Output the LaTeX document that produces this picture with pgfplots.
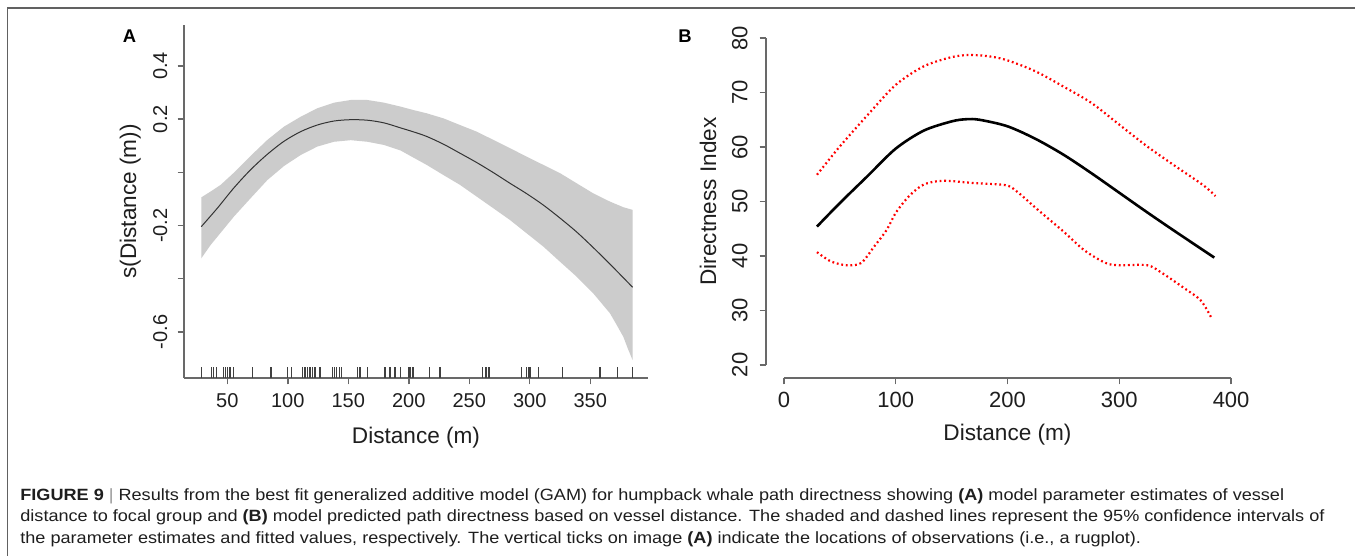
\documentclass[border=0pt]{standalone}
\usepackage{fontspec}
\setmainfont{Liberation Sans}
\usepackage{pgfplots}
\pgfplotsset{compat=1.18}
\definecolor{axgray}{RGB}{105,105,105}
\definecolor{bandgray}{RGB}{204,204,204}
\definecolor{txt}{RGB}{30,30,30}
\definecolor{capgray}{RGB}{150,150,150}

\pgfplotstableread{
x      fit
28.5  -0.204
41.7  -0.135
55.5  -0.058
69.3   0.010
83.1   0.068
96.9   0.117
110.6  0.153
124.4  0.178
138.2  0.193
152.0  0.198
165.8  0.196
179.5  0.186
193.3  0.167
204.0  0.152
214.8  0.135
228.6  0.106
242.3  0.072
256.1  0.037
269.9 -0.001
283.6 -0.041
297.4 -0.080
311.2 -0.123
325.0 -0.172
338.7 -0.224
352.5 -0.283
366.3 -0.345
377.3 -0.396
385.0 -0.432
}\tabA

% band outline: upper edge left to right, then lower edge right to left
\pgfplotstableread{
x      y
28.5  -0.094
36.2  -0.072
44.5  -0.047
55.5  -0.001
69.3   0.062
83.1   0.122
96.9   0.172
110.6  0.209
124.4  0.241
138.2  0.262
152.0  0.272
165.8  0.272
179.5  0.262
193.3  0.247
204.0  0.234
214.8  0.222
228.6  0.203
242.3  0.178
256.1  0.153
269.9  0.122
283.6  0.091
297.4  0.059
311.2  0.028
325.0 -0.003
338.7 -0.041
352.5 -0.079
366.3 -0.110
377.3 -0.131
385.0 -0.141
385.0 -0.706
381.0 -0.662
377.3 -0.618
372.0 -0.575
366.3 -0.530
352.5 -0.455
338.7 -0.392
325.0 -0.336
311.2 -0.279
297.4 -0.229
283.6 -0.179
269.9 -0.135
256.1 -0.091
242.3 -0.047
228.6 -0.010
214.8  0.028
204.0  0.055
193.3  0.082
179.5  0.103
165.8  0.115
152.0  0.121
138.2  0.115
124.4  0.097
110.6  0.065
96.9   0.024
83.1  -0.029
69.3  -0.097
55.5  -0.166
44.5  -0.227
36.2  -0.273
28.5  -0.323
}\tabBand

\pgfplotstableread{
x     fit
29.6  45.4
50    49.7
75    54.7
100   59.7
125   63.0
150   64.7
163   65.1
175   65.0
200   63.8
225   61.5
250   58.6
275   55.2
300   51.6
325   48.0
350   44.5
385   39.7
}\tabBfit

\pgfplotstableread{
x     y
29.6  54.9
50    60.1
75    65.9
100   71.4
125   74.8
150   76.5
167   76.9
185   76.6
200   75.9
225   73.9
250   71.1
275   68.1
300   64.1
325   60.1
350   56.5
375   53.0
386   51.0
}\tabBhi

\pgfplotstableread{
x     y
29.6  40.7
42    39.0
56    38.3
69    38.7
81    41.8
92    44.8
100   47.9
112   51.0
125   53.1
142   53.8
169   53.4
198   53.0
208   51.9
227   48.5
250   44.5
269   41.0
288   38.7
300   38.3
325   38.3
338   36.9
358   34.1
373   31.8
383   28.4
}\tabBlo

\pgfplotstableread{
x      y
28.3   -0.7525
37.1   -0.7525
38.4   -0.7525
40.7   -0.7525
46.7   -0.7525
48.7   -0.7525
50.3   -0.7525
52.2   -0.7525
55.0   -0.7525
71.0   -0.7525
86.1   -0.7525
99.9   -0.7525
103.2  -0.7525
112.3  -0.7525
114.2  -0.7525
116.4  -0.7525
118.3  -0.7525
120.6  -0.7525
122.5  -0.7525
126.6  -0.7525
137.1  -0.7525
138.4  -0.7525
140.4  -0.7525
142.6  -0.7525
144.5  -0.7525
157.7  -0.7525
159.7  -0.7525
166.0  -0.7525
180.3  -0.7525
184.5  -0.7525
188.6  -0.7525
193.3  -0.7525
199.6  -0.7525
201.0  -0.7525
202.9  -0.7525
203.8  -0.7525
217.0  -0.7525
225.8  -0.7525
261.1  -0.7525
263.8  -0.7525
266.3  -0.7525
293.3  -0.7525
297.4  -0.7525
298.8  -0.7525
300.2  -0.7525
307.0  -0.7525
327.2  -0.7525
358.0  -0.7525
372.3  -0.7525
385.0  -0.7525
}\tabRug

\begin{document}
\begin{tikzpicture}
\path[use as bounding box] (0,0) rectangle (677.5pt,278pt);
\fill[white] (0,0) rectangle (677.5pt,278pt);
% frame
\draw[black!62, line width=0.9pt] (3.75pt,0) -- (3.75pt,274pt) -- (677.5pt,274pt);

% ---------------- Panel A ----------------
\begin{axis}[
  at={(92pt,89pt)}, anchor=south west,
  scale only axis, width=232pt, height=176.5pt,
  xmin=14.2, xmax=397.7, ymin=-0.773, ymax=0.554,
  axis x line*=bottom, axis y line*=left,
  axis line style={axgray, line width=0.8pt},
  tick align=outside, major tick length=3.2pt,
  tick style={axgray, line width=0.7pt},
  xtick={50,100,...,350},
  ytick={-0.6,-0.4,-0.2,0,0.2,0.4},
  yticklabels={-0.6,,-0.2,,0.2,0.4},
  /pgf/number format/assume math mode=true,
  ticklabel style={font=\fontsize{10}{12}\selectfont, text=txt},
  xticklabel style={anchor=north, inner sep=0pt, yshift=-4.2pt},
  yticklabel style={xshift=-5pt, rotate=90, anchor=south, inner sep=0pt},
  xlabel={Distance (m)}, ylabel={s(Distance (m))},
  label style={font=\fontsize{11.3}{13}\selectfont, text=txt},
  xlabel style={at={(axis description cs:0.5,-0.17)}, anchor=center},
  ylabel style={at={(axis description cs:-0.116,0.5)}, anchor=center, rotate=0},
]
\addplot[fill=bandgray, draw=none] table[x=x, y=y] {\tabBand};
\addplot[black!80, line width=0.5pt, smooth] table[x=x, y=fit] {\tabA};
\addplot[only marks, mark=|, mark size=2.75pt, mark options={black!75, line width=0.55pt}] table[x=x, y=y] {\tabRug};
\end{axis}

% ---------------- Panel B ----------------
\begin{axis}[
  at={(383pt,89pt)}, anchor=south west,
  scale only axis, width=241.5pt, height=176.5pt,
  xmin=-16, xmax=416, ymin=17.6, ymax=82.4,
  clip=false,
  axis x line*=bottom, axis y line*=left,
  axis line style={draw=none},
  tick align=outside, major tick length=3.2pt,
  tick style={axgray, line width=0.7pt},
  xtick={0,100,...,400},
  ytick={20,30,...,80},
  /pgf/number format/assume math mode=true,
  ticklabel style={font=\fontsize{11}{13}\selectfont, text=txt},
  xticklabel style={anchor=north, inner sep=0pt, yshift=-3.8pt},
  yticklabel style={xshift=-5.8pt, rotate=90, anchor=south, inner sep=0pt},
  xlabel={Distance (m)}, ylabel={Directness Index},
  label style={font=\fontsize{11.3}{13}\selectfont, text=txt},
  xlabel style={at={(axis description cs:0.5,-0.16)}, anchor=center},
  ylabel style={at={(axis description cs:-0.12,0.5)}, anchor=center, rotate=0},
]
\draw[axgray, line width=0.8pt] (axis cs:0,17.6) -- (axis cs:400,17.6);
\draw[axgray, line width=0.8pt] (axis cs:-16,20) -- (axis cs:-16,80);
\addplot[red, line width=1.1pt, dash pattern=on 0.9pt off 1.4pt, smooth] table[x=x, y=y] {\tabBhi};
\addplot[red, line width=1.1pt, dash pattern=on 0.9pt off 1.4pt, smooth] table[x=x, y=y] {\tabBlo};
\addplot[black, line width=1.3pt, smooth] table[x=x, y=fit] {\tabBfit};
\end{axis}

% panel letters
\node[font=\fontsize{9.2}{11}\selectfont\bfseries, text=black] at (64.7pt,260.1pt) {A};
\node[font=\fontsize{9.2}{11}\selectfont\bfseries, text=black] at (342.5pt,260.1pt) {B};

% caption
\begin{scope}[every node/.style={anchor=base west, inner sep=0pt, font=\fontsize{8.15}{10}\selectfont, text=txt}]
\node at (10pt,27.5pt) {\scalebox{1.11}[1]{\textbf{FIGURE 9} {\color{capgray}|} Results from the best fit generalized additive model (GAM) for humpback whale path directness showing \textbf{(A)} model parameter estimates of vessel}};
\node at (10pt,17pt) {\scalebox{1.11}[1]{distance to focal group and \textbf{(B)} model predicted path directness based on vessel distance. The shaded and dashed lines represent the 95\% confidence intervals of}};
\node at (10pt,6pt) {\scalebox{1.11}[1]{the parameter estimates and fitted values, respectively. The vertical ticks on image \textbf{(A)} indicate the locations of observations (i.e., a rugplot).}};
\end{scope}
\end{tikzpicture}
\end{document}
